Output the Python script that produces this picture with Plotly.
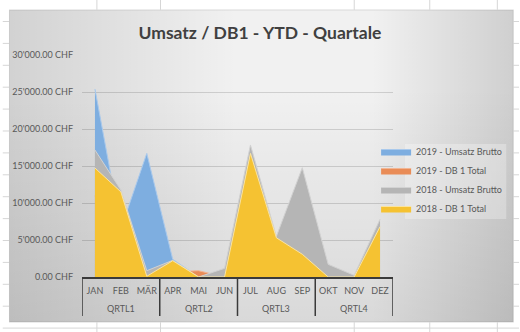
import base64
import plotly.graph_objects as go

# ---- data -------------------------------------------------------------
months = ["JAN", "FEB", "MÄR", "APR", "MAI", "JUN",
          "JUL", "AUG", "SEP", "OKT", "NOV", "DEZ"]
quarters = ["QRTL1", "QRTL1", "QRTL1", "QRTL2", "QRTL2", "QRTL2",
            "QRTL3", "QRTL3", "QRTL3", "QRTL4", "QRTL4", "QRTL4"]

umsatz_2019 = [25400, 6500, 16700, 2400, 0, 0, 0, 0, 0, 0, 0, 0]
db1_2019 = [11000, 3500, 400, 700, 850, 0, 0, 0, 0, 0, 0, 0]
umsatz_2018 = [17160, 11760, 850, 2250, 0, 1170, 17840, 5500, 14770, 1710, 230, 7800]
db1_2018 = [14730, 11500, 100, 2200, 0, 0, 16700, 5300, 3070, 0, 0, 6800]

series_names = ["2019 - Umsatz Brutto", "2019 - DB 1 Total",
                "2018 - Umsatz Brutto", "2018 - DB 1 Total"]

# ---- geometry ---------------------------------------------------------
W, H = 520, 332
ML, MR, MT, MB = 80, 127, 55, 55
PW, PH = W - ML - MR, H - MT - MB


def px_x(x):
    return (x - ML) / PW


def px_y(y):
    return (H - MB - y) / PH


FONT = "Lato"
TXT = "#595959"
AXIS = "#3a3a3a"

# ---- worksheet backdrop with the chart box (SVG gradient) ---------------
box = (7, 10, 514, 322)
col_lines = [95, 159, 354, 430, 498]
row_lines = [21.5 + 21.9 * k for k in range(15)]
grid = "".join(
    f'<line x1="{c}" y1="0" x2="{c}" y2="{H}" stroke="#d6d6d6" stroke-width="1"/>'
    for c in col_lines
) + "".join(
    f'<line x1="0" y1="{r:.1f}" x2="{W}" y2="{r:.1f}" stroke="#d6d6d6" stroke-width="1"/>'
    for r in row_lines
)
bx0, by0, bx1, by1 = box
svg = f'''<svg xmlns="http://www.w3.org/2000/svg" width="{W}" height="{H}" viewBox="0 0 {W} {H}">
<defs>
<linearGradient id="gh" x1="0" y1="0" x2="1" y2="0">
<stop offset="0" stop-color="#000" stop-opacity="0.13"/>
<stop offset="0.45" stop-color="#000" stop-opacity="0"/>
<stop offset="0.72" stop-color="#000" stop-opacity="0"/>
<stop offset="1" stop-color="#000" stop-opacity="0.14"/>
</linearGradient>
<linearGradient id="gv" x1="0" y1="0" x2="0" y2="1">
<stop offset="0" stop-color="#000" stop-opacity="0"/>
<stop offset="0.25" stop-color="#000" stop-opacity="0"/>
<stop offset="1" stop-color="#000" stop-opacity="0.10"/>
</linearGradient>
</defs>
<rect width="{W}" height="{H}" fill="#ffffff"/>
{grid}
<rect x="{bx0}" y="{by0}" width="{bx1 - bx0}" height="{by1 - by0}" fill="#f1f1f1" stroke="#d9d9d9" stroke-width="1"/>
<rect x="{bx0}" y="{by0}" width="{bx1 - bx0}" height="{by1 - by0}" fill="url(#gh)"/>
<rect x="{bx0}" y="{by0}" width="{bx1 - bx0}" height="{by1 - by0}" fill="url(#gv)"/>
</svg>'''
bg_src = "data:image/svg+xml;base64," + base64.b64encode(svg.encode("utf-8")).decode("ascii")

# ---- traces -----------------------------------------------------------
styles = [
    ("#7eaee0", "#a9c9ec"),
    ("#e98c57", "#f2b593"),
    ("#b5b5b5", "#d2d2d2"),
    ("#f5c232", "#fbe4a0"),
]
values = [umsatz_2019, db1_2019, umsatz_2018, db1_2018]

fig = go.Figure()
for name, vals, (fill, edge) in zip(series_names, values, styles):
    fig.add_trace(go.Scatter(
        x=months, y=vals, name=name, mode="lines", fill="tozeroy",
        fillcolor=fill, line=dict(color=edge, width=1),
        hovertemplate="%{x}: %{y:,.2f} CHF<extra>" + name + "</extra>",
    ))

# ---- quarter grouping below the month labels ----------------------------
groups = []  # (label, first index, last index)
for i, q in enumerate(quarters):
    if groups and groups[-1][0] == q:
        groups[-1][2] = i
    else:
        groups.append([q, i, i])

DIV_BOTTOM = 316
divider_pos = sorted({g[1] - 0.5 for g in groups} | {g[2] + 0.5 for g in groups})
divider_shapes = [
    dict(type="line", xref="x", yref="paper", layer="above",
         x0=d, x1=d, y0=0, y1=px_y(DIV_BOTTOM),
         line=dict(color=AXIS, width=1.5))
    for d in divider_pos
]
quarter_labels = [
    dict(text=q, xref="x", yref="paper", x=(a + b) / 2, y=px_y(308),
         xanchor="center", yanchor="middle", showarrow=False,
         font=dict(family=FONT, size=9, color=TXT))
    for q, a, b in groups
]

fig.update_layout(
    width=W, height=H,
    margin=dict(l=ML, r=MR, t=MT, b=MB, pad=0),
    paper_bgcolor="white",
    plot_bgcolor="rgba(0,0,0,0)",
    separators=".'",
    font=dict(family=FONT, size=9, color=TXT),
    title=dict(
        text="<b>Umsatz / DB1 - YTD - Quartale</b>",
        font=dict(family=FONT, size=17.5, color="#404040"),
        x=0.5, xref="container", xanchor="center",
        y=1 - 33 / H, yref="container", yanchor="middle",
    ),
    xaxis=dict(
        type="category",
        range=[-0.5, len(months) - 0.5],
        showline=True, linecolor=AXIS, linewidth=1.5,
        showgrid=False, tickangle=0, ticks="",
        ticklabelstandoff=4,
        tickfont=dict(family=FONT, size=9, color=TXT),
    ),
    yaxis=dict(
        range=[0, 30000], dtick=5000,
        tickformat=",.2f", ticksuffix=" CHF",
        showgrid=True, gridcolor="rgba(0,0,0,0.14)", gridwidth=1,
        zeroline=False, showline=False, ticks="",
        ticklabelstandoff=8,
        tickfont=dict(family=FONT, size=9, color=TXT),
    ),
    legend=dict(
        x=px_x(376), y=px_y(137), xanchor="left", yanchor="top",
        xref="paper", yref="paper",
        bgcolor="rgba(0,0,0,0)", borderwidth=0,
        font=dict(family=FONT, size=9, color=TXT),
        traceorder="normal",
    ),
    images=[dict(
        source=bg_src, xref="paper", yref="paper",
        x=px_x(0), y=px_y(0), sizex=W / PW, sizey=H / PH,
        xanchor="left", yanchor="top", sizing="stretch", layer="below",
    )],
    shapes=[dict(
        type="rect", xref="paper", yref="paper", layer="below",
        x0=px_x(405), x1=px_x(507), y0=px_y(144), y1=px_y(219),
        fillcolor="rgba(255,255,255,0.28)", line=dict(width=0),
    )] + divider_shapes,
    annotations=quarter_labels,
)

fig.write_html("out.html")
